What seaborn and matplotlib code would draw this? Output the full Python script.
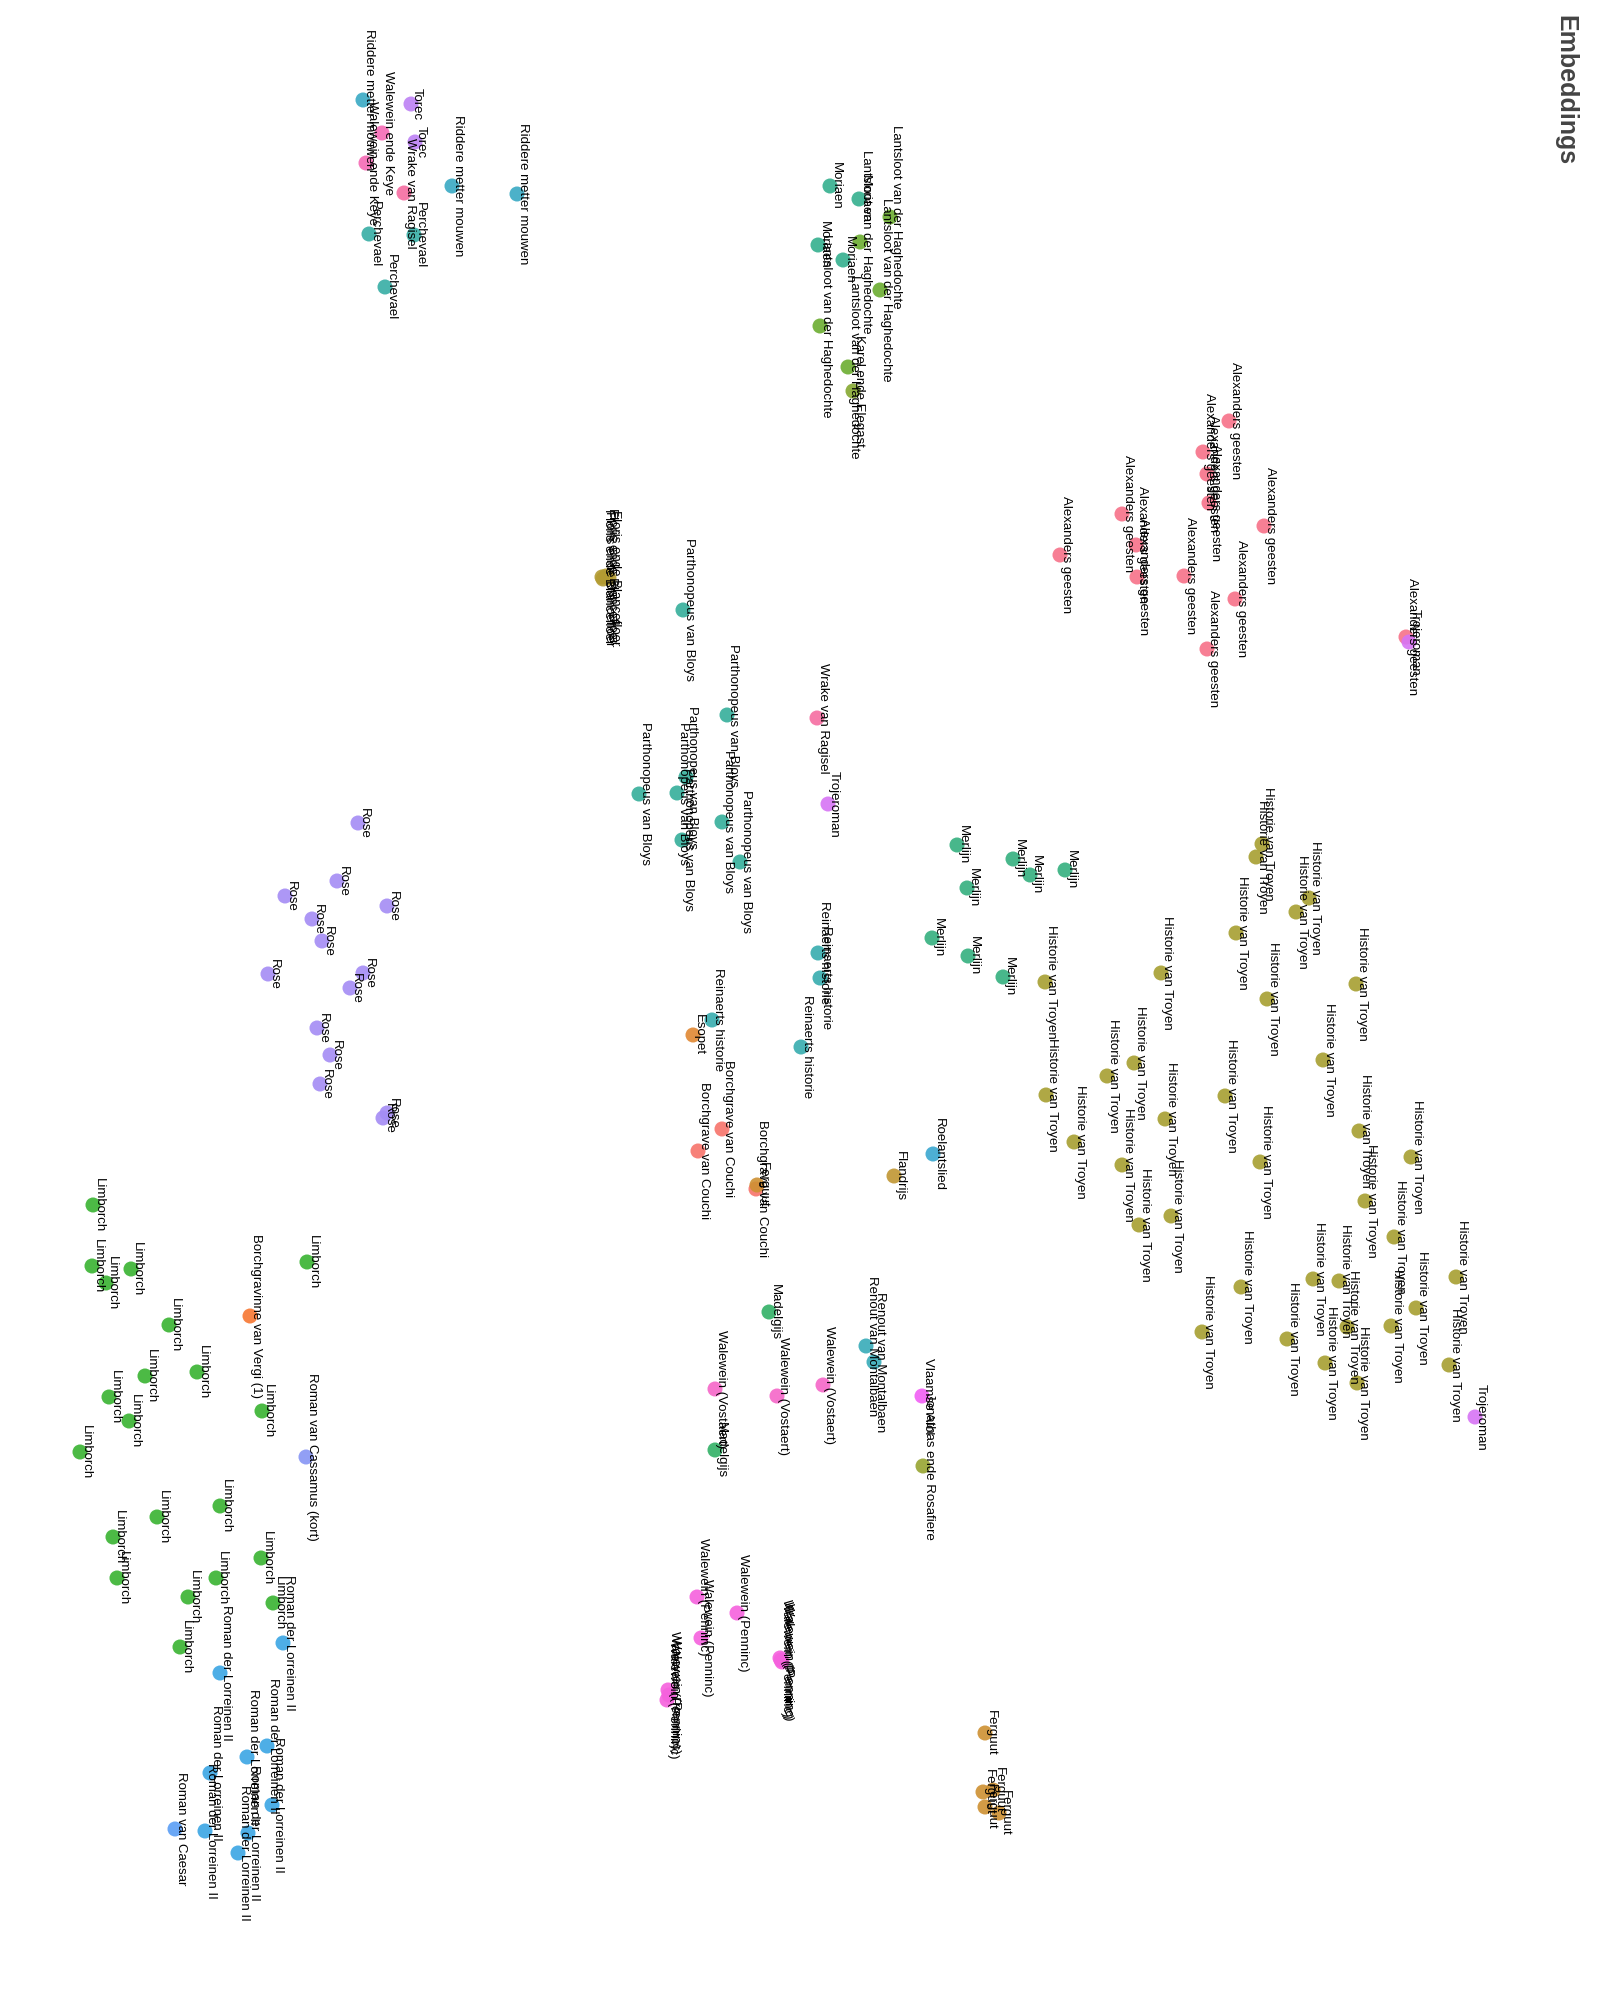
import matplotlib
matplotlib.use("Agg")
import matplotlib.pyplot as plt
import pandas as pd
import seaborn as sns

# point positions (x to the right, y downward)
books = (
    ["Alexanders geesten"] * 13
    + ["Trojeroman"] * 3
    + ["Riddere metter mouwen"] * 3
    + ["Torec"] * 2
    + ["Walewein ende Keye"] * 2
    + ["Wrake van Ragisel"] * 2
    + ["Perchevael"] * 3
    + ["Moriaen"] * 4
    + ["Lantsloot van der Haghedochte"] * 5
    + ["Karel ende Elegast"]
    + ["Floris ende Blancefloer"] * 4
    + ["Parthonopeus van Bloys"] * 8
    + ["Merlijn"] * 8
    + ["Reinaerts historie"] * 4
    + ["Esopet"]
    + ["Historie van Troyen"] * 36
    + ["Roelantslied", "Flandrijs"]
    + ["Borchgrave van Couchi"] * 3
    + ["Ferguut"] * 6
    + ["Madelgijs"] * 2
    + ["Renout van Montalbaen"] * 2
    + ["Walewein (Vostaert)"] * 3
    + ["Vlaamse Aiol", "Jonathas ende Rosafiere"]
    + ["Walewein (Penninc)"] * 9
    + ["Rose"] * 14
    + ["Limborch"] * 21
    + ["Borchgravinne van Vergi (1)", "Roman van Cassamus (kort)"]
    + ["Roman der Lorreinen II"] * 9
    + ["Roman van Caesar"]
)

x_pos = [
    1229, 1203, 1207, 1209, 1264, 1122, 1136, 1137, 1060, 1184, 1235, 1207, 1406,
    1409, 828, 1475,
    363, 452, 517,
    411, 415,
    382, 366,
    404, 817,
    369, 414, 385,
    830, 859, 818, 843,
    890, 860, 880, 820, 848,
    853,
    602, 603, 606, 609,
    683, 727, 639, 677, 686, 722, 682, 740,
    957, 1013, 1030, 1065, 967, 932, 968, 1003,
    818, 820, 712, 801,
    693,
    1262, 1256, 1309, 1296, 1236, 1161, 1356, 1267, 1045, 1323, 1134, 1107,
    1046, 1225, 1165, 1359, 1074, 1411, 1122, 1260, 1365, 1171, 1139, 1394,
    1241, 1313, 1339, 1456, 1416, 1391, 1347, 1202, 1287, 1325, 1357, 1449,
    933, 894,
    722, 698, 756,
    757, 985, 983, 993, 985, 999,
    769, 715,
    866, 874,
    823, 777, 715,
    922, 923,
    697, 737, 701, 781, 782, 780, 668, 667, 669,
    358, 337, 285, 387, 312, 322, 268, 363, 350, 317, 330, 320, 383, 387,
    93, 307, 92, 106, 131, 169, 197, 145, 109, 129, 262, 80, 220, 157, 113,
    261, 117, 216, 188, 273, 180,
    250, 306,
    283, 220, 267, 247, 210, 272, 248, 205, 238,
    175,
]

y_pos = [
    421, 452, 474, 503, 526, 514, 545, 577, 555, 576, 599, 649, 637,
    642, 804, 1417,
    100, 186, 194,
    104, 142,
    133, 163,
    193, 718,
    234, 235, 287,
    186, 199, 245, 260,
    217, 242, 290, 326, 367,
    391,
    577, 579, 576, 578,
    610, 715, 794, 793, 777, 822, 840, 862,
    845, 859, 875, 870, 888, 938, 956, 977,
    953, 978, 1020, 1047,
    1035,
    844, 857, 898, 912, 933, 973, 984, 999, 982, 1060, 1063, 1076,
    1095, 1096, 1119, 1131, 1142, 1157, 1165, 1162, 1201, 1216, 1225, 1237,
    1287, 1279, 1281, 1277, 1308, 1326, 1327, 1332, 1339, 1363, 1383, 1365,
    1154, 1176,
    1129, 1151, 1189,
    1185, 1733, 1792, 1790, 1807, 1813,
    1312, 1450,
    1346, 1362,
    1385, 1396, 1389,
    1396, 1466,
    1597, 1613, 1638, 1660, 1662, 1658, 1690, 1700, 1695,
    823, 881, 896, 906, 919, 941, 974, 973, 988, 1028, 1055, 1084, 1118, 1113,
    1205, 1262, 1266, 1283, 1269, 1325, 1372, 1376, 1397, 1421, 1411, 1452,
    1506, 1517, 1537, 1558, 1578, 1578, 1597, 1603, 1647,
    1316, 1457,
    1643, 1673, 1746, 1757, 1773, 1805, 1833, 1831, 1853,
    1829,
]

df = pd.DataFrame({"book": books, "x": x_pos, "y": y_pos})
book_order = sorted(df["book"].unique())

sns.set_theme(style="white")
plt.rcParams["font.family"] = ["Liberation Sans", "DejaVu Sans"]

fig = plt.figure(figsize=(16, 20), dpi=100)
ax = fig.add_axes([0, 0, 1, 1])
sns.scatterplot(
    data=df, x="x", y="y", hue="book", hue_order=book_order,
    palette=sns.color_palette("husl", len(book_order)),
    s=117, linewidth=0, alpha=0.9, legend=False, ax=ax,
)
for _, row in df.iterrows():
    ax.text(row["x"], row["y"], row["book"], rotation=-90, rotation_mode="anchor",
            ha="center", va="bottom", fontsize=9.5, color="black")

ax.set_xlim(0, 1600)
ax.set_ylim(2000, 0)
ax.axis("off")

fig.text(0.9856, 0.9925, "Embeddings", rotation=-90, rotation_mode="anchor",
         ha="left", va="top", fontsize=18, fontweight="bold", color="#444444")

fig.savefig("out.png", dpi=100)
